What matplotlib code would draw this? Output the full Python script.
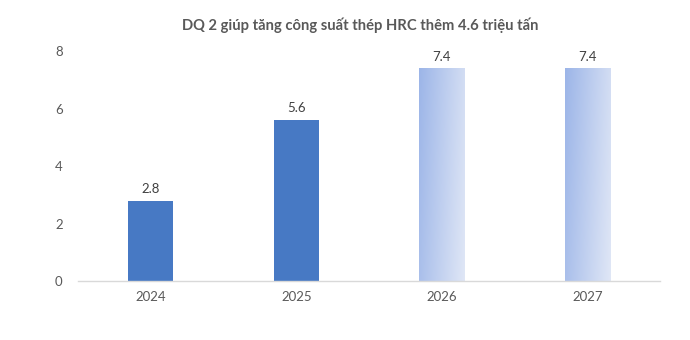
import matplotlib
matplotlib.use("Agg")
import matplotlib.pyplot as plt
import numpy as np

categories = ["2024", "2025", "2026", "2027"]
values = [2.8, 5.6, 7.4, 7.4]
gradient_flags = [False, False, True, True]
title = "DQ 2 giúp tăng công suất thép HRC thêm 4.6 triệu tấn"

plt.rcParams['font.family'] = ['Lato', 'DejaVu Sans']

fig = plt.figure(figsize=(6.9, 3.4), dpi=100)
ax = fig.add_axes([0.113, 0.1735, 0.844, 0.6765])

x = np.arange(len(categories))
width = 0.31
solid = "#4779c4"
bars = ax.bar(x, values, width=width, color=solid, zorder=2)

# gradient fill for forecast bars
c1 = np.array([0x9c, 0xb5, 0xe8]) / 255.0
c2 = np.array([0xe0, 0xe7, 0xf6]) / 255.0
n = 200
gx, gy = np.meshgrid(np.linspace(0, 1, n), np.linspace(0, 1, n))
t = (gx * 0.8 + gy * 0.2)
t = (t - t.min()) / (t.max() - t.min())
img = c1[None, None, :] * (1 - t[..., None]) + c2[None, None, :] * t[..., None]
for b, g in zip(bars, gradient_flags):
    if g:
        b.set_facecolor("none")
        x0, y0 = b.get_x(), b.get_y()
        w, h = b.get_width(), b.get_height()
        im = ax.imshow(img, extent=[x0, x0 + w, y0, y0 + h], origin="upper",
                       aspect="auto", zorder=2)
        im.set_clip_path(b)

for xi, v in zip(x, values):
    ax.text(xi, v + 0.2, f"{v:.1f}", ha="center", va="bottom",
            fontsize=9.5, color="#404040")

ax.set_xlim(-0.5, len(categories) - 0.5)
ax.set_ylim(0, 8)
ax.set_yticks([0, 2, 4, 6, 8])
ax.set_xticks(x)
ax.set_xticklabels(categories)
ax.tick_params(axis="both", length=0, labelsize=9.5, colors="#595959")
ax.tick_params(axis="y", pad=11)
ax.tick_params(axis="x", pad=7)
for s in ["top", "right", "left"]:
    ax.spines[s].set_visible(False)
ax.spines["bottom"].set_color("#d9d9d9")
ax.spines["bottom"].set_linewidth(1)

fig.text(0.522, 0.925, title, ha="center", va="center", fontsize=10.6,
         fontweight="bold", color="#595959")

fig.savefig("out.png", dpi=100)
